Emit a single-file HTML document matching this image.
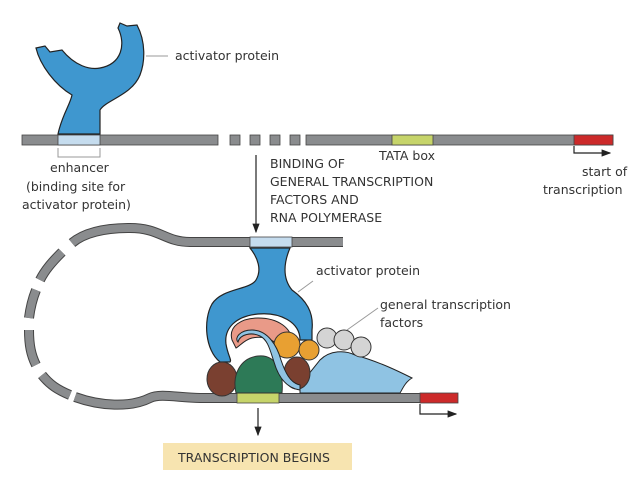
<!DOCTYPE html>
<html><head><style>
body{margin:0;background:#fff;width:638px;height:478px;overflow:hidden;font-family:"DejaVu Sans","Liberation Sans",sans-serif;}
svg{display:block}
text{font-family:"DejaVu Sans","Liberation Sans",sans-serif;font-size:12.5px;fill:#333}
</style></head><body>
<svg width="638" height="478" viewBox="0 0 638 478">
<defs><marker id="ah" markerWidth="8" markerHeight="8" refX="7" refY="4" orient="auto"><path d="M0,1 L8,4 L0,7 Z" fill="#222"/></marker></defs>
<!-- top DNA -->
<g stroke="#444" stroke-width="0.8">
<rect x="22" y="135" width="196" height="10" fill="#8a8c8e"/>
<rect x="58" y="135" width="42" height="10" fill="#c5dcee"/>
<rect x="230" y="135" width="10" height="10" fill="#8a8c8e"/>
<rect x="250" y="135" width="10" height="10" fill="#8a8c8e"/>
<rect x="270" y="135" width="10" height="10" fill="#8a8c8e"/>
<rect x="290" y="135" width="10" height="10" fill="#8a8c8e"/>
<rect x="306" y="135" width="307" height="10" fill="#8a8c8e"/>
<rect x="392" y="135" width="41" height="10" fill="#c6d46a"/>
<rect x="574" y="135" width="39" height="10" fill="#cc2a2a"/>
</g>
<path d="M574,146 V153 H610" fill="none" stroke="#222" stroke-width="1.2" marker-end="url(#ah)"/>
<path d="M58,148 V157 H100 V148" fill="none" stroke="#999" stroke-width="1"/>
<!-- top activator -->
<path d="M58,134 C62,115 70,105 72,95 C55,85 40,65 36,48 L45,46 L50,52 L62,50 C75,66 90,70 100,68 C122,64 126,44 118,28 L120,23 L127,26 L137,25 C146,42 145,62 140,75 C132,95 106,100 100,110 L100,134 Z" fill="#3f97cf" stroke="#222" stroke-width="1.2"/>
<line x1="146" y1="56" x2="168" y2="56" stroke="#999"/>
<text x="175" y="60">activator protein</text>
<text x="50" y="172">enhancer</text>
<text x="26" y="191">(binding site for</text>
<text x="22" y="209">activator protein)</text>
<text x="379" y="160">TATA box</text>
<text x="582" y="176">start of</text>
<text x="543" y="194">transcription</text>
<!-- middle arrow -->
<line x1="256" y1="155" x2="256" y2="232" stroke="#222" stroke-width="1.2" marker-end="url(#ah)"/>
<g style="font-size:12.5px"><text x="270" y="168">BINDING OF</text>
<text x="270" y="186">GENERAL TRANSCRIPTION</text>
<text x="270" y="204">FACTORS AND</text>
<text x="270" y="222">RNA POLYMERASE</text></g>
<!-- loop -->
<g fill="none" stroke="#444" stroke-width="10" stroke-linecap="butt">
<path d="M343,242 H190 C165,242 160,228 130,228 C105,228 85,232 72,243"/>
<path d="M62,252 C52,262 45,270 40,280 M36,290 C32,300 30,310 29,318 M29,330 C29,345 31,355 36,365 M42,375 C50,385 58,390 70,395 M75,397 C100,406 130,408 150,398 C160,393 180,398 200,398 H420"/>
</g>
<g fill="none" stroke="#8a8c8e" stroke-width="8">
<path d="M343,242 H190 C165,242 160,228 130,228 C105,228 85,232 72,243"/>
<path d="M62,252 C52,262 45,270 40,280 M36,290 C32,300 30,310 29,318 M29,330 C29,345 31,355 36,365 M42,375 C50,385 58,390 70,395 M75,397 C100,406 130,408 150,398 C160,393 180,398 200,398 H420"/>
</g>
<g stroke="#444" stroke-width="0.8">
<rect x="250" y="237" width="42" height="10" fill="#c5dcee"/>
<rect x="237" y="393" width="42" height="10" fill="#c6d46a"/>
<rect x="420" y="393" width="38" height="10" fill="#cc2a2a"/>
</g>
<path d="M420,404 V414 H456" fill="none" stroke="#222" stroke-width="1.2" marker-end="url(#ah)"/>
<!-- bottom activator -->
<path d="M250,248 L290,248 C284,262 282,278 292,290 C306,300 314,312 312,330 L312,340 L300,340 C300,322 280,312 258,314 C236,316 224,328 226,344 C228,356 232,360 230,362 L220,362 C205,350 203,320 212,304 C222,288 250,290 256,280 C262,270 258,258 250,248 Z" fill="#3f97cf" stroke="#222" stroke-width="1.2"/>
<path d="M232,340 C228,326 242,318 258,318 C278,318 292,328 292,342 C292,350 282,352 278,346 C272,338 262,336 252,338 C244,340 240,346 236,348 Z" fill="#e99a88" stroke="#222" stroke-width="1"/>
<!-- light blue pol -->
<path d="M300,385 L320,360 C330,350 345,350 355,355 C380,362 400,372 412,378 C405,382 402,390 400,393 L300,393 Z" fill="#8fc3e3" stroke="#222" stroke-width="1"/>
<!-- spheres -->
<circle cx="327" cy="338" r="10" fill="#d4d4d4" stroke="#333"/>
<circle cx="344" cy="340" r="10" fill="#d4d4d4" stroke="#333"/>
<circle cx="361" cy="347" r="10" fill="#d4d4d4" stroke="#333"/>
<circle cx="287" cy="345" r="13" fill="#e8a032" stroke="#333"/>
<circle cx="309" cy="350" r="10" fill="#e8a032" stroke="#333"/>
<ellipse cx="222" cy="379" rx="15" ry="17" fill="#7a4030" stroke="#333"/>
<ellipse cx="297" cy="373" rx="13" ry="16" fill="#7a4030" stroke="#333"/>
<path d="M236,393 C232,375 240,358 258,356 C276,354 284,372 282,393 Z" fill="#2d7a57" stroke="#333"/>
<path d="M238,342 C240,334 252,332 260,336 C268,340 270,350 274,362 C278,376 286,388 300,390 L300,385 C290,383 285,372 281,360 C277,346 268,330 252,330 C240,330 234,338 238,342 Z" fill="#8fc3e3" stroke="#222" stroke-width="1"/>
<line x1="298" y1="292" x2="313" y2="281" stroke="#999"/>
<text x="316" y="275">activator protein</text>
<line x1="347" y1="330" x2="378" y2="308" stroke="#999"/>
<text x="380" y="309">general transcription</text>
<text x="380" y="327">factors</text>
<line x1="258" y1="408" x2="258" y2="435" stroke="#222" stroke-width="1.2" marker-end="url(#ah)"/>
<rect x="163" y="443" width="189" height="27" fill="#f7e4b0"/>
<text x="178" y="462">TRANSCRIPTION BEGINS</text>
</svg>
</body></html>
